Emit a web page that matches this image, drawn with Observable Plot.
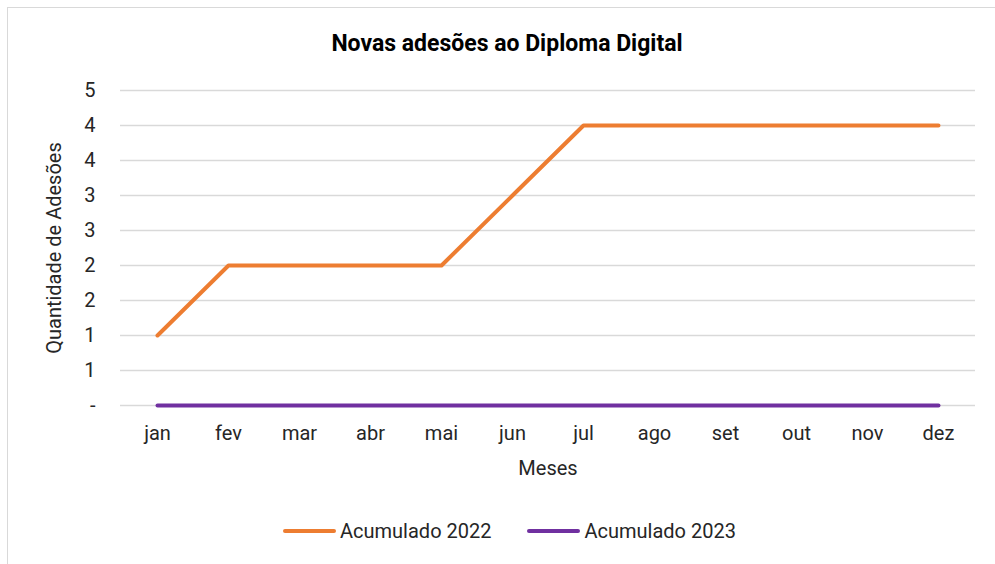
<!DOCTYPE html>
<html><head><meta charset="utf-8">
<script src="https://cdn.jsdelivr.net/npm/d3@7"></script>
<script src="https://cdn.jsdelivr.net/npm/@observablehq/plot@0.6"></script>
<style>
body{margin:0;background:#fff;font-family:Roboto,sans-serif;}
#wrap{position:relative;width:995px;height:564px;overflow:hidden;background:#fff;}
#frame{position:absolute;left:7px;top:7px;width:1100px;height:700px;border:1.5px solid #d9d9d9;box-sizing:border-box;}
#title{position:absolute;top:30px;left:8px;width:998px;text-align:center;font-weight:bold;font-size:23px;color:#000;}
#chart{position:absolute;left:0;top:0;}
#legend{position:absolute;left:283px;top:519px;display:flex;align-items:center;gap:36px;font-size:20px;color:#262626;}
.item{display:flex;align-items:center;}
.sw{display:inline-block;width:53px;height:4px;border-radius:2px;margin-right:4px;}
</style></head>
<body>
<div id="wrap">
  <div id="frame"></div>
  <div id="title">Novas adesões ao Diploma Digital</div>
  <div id="chart"></div>
  <div id="legend"></div>
</div>
<script>
const months = ["jan","fev","mar","abr","mai","jun","jul","ago","set","out","nov","dez"];
const acumulado2022 = [1,2,2,2,2,3,4,4,4,4,4,4];
const acumulado2023 = [0,0,0,0,0,0,0,0,0,0,0,0];
const seriesNames = ["Acumulado 2022","Acumulado 2023"];
const seriesColors = ["#ED7D31","#7030A0"];
const yTicks = [0,0.5,1,1.5,2,2.5,3,3.5,4,4.5];
const yTickLabels = ["-","1","1","2","2","3","3","4","4","5"];

const data = [];
[acumulado2022, acumulado2023].forEach((vals, s) => {
  vals.forEach((v, i) => data.push({month: months[i], value: v, series: seriesNames[s]}));
});

const chart = Plot.plot({
  width: 995,
  height: 564,
  marginLeft: 120,
  marginRight: 20,
  marginTop: 90,
  marginBottom: 159,
  style: {fontFamily: "Roboto, sans-serif", fontSize: "20px", color: "#262626", background: "transparent"},
  x: {domain: months, padding: 0.5},
  y: {domain: [0, 4.5]},
  color: {domain: seriesNames, range: seriesColors},
  marks: [
    Plot.gridY(yTicks, {stroke: "#d9d9d9", strokeOpacity: 1, strokeWidth: 1.5}),
    Plot.axisY(yTicks, {tickSize: 0, tickPadding: 25, tickFormat: (d) => yTickLabels[yTicks.indexOf(d)],
      label: "Quantidade de Adesões", labelAnchor: "center", labelArrow: "none", labelOffset: 74, fontSize: 20}),
    Plot.axisX({tickSize: 0, tickPadding: 20, label: "Meses", labelAnchor: "center", labelArrow: "none", labelOffset: 69, fontSize: 20}),
    Plot.line(data, {x: "month", y: "value", z: "series", stroke: "series", strokeWidth: 4, strokeLinecap: "round", strokeLinejoin: "round"})
  ]
});
document.getElementById("chart").appendChild(chart);

const legend = document.getElementById("legend");
seriesNames.forEach((n, i) => {
  const it = document.createElement("div");
  it.className = "item";
  const sw = document.createElement("span");
  sw.className = "sw";
  sw.style.background = seriesColors[i];
  it.appendChild(sw);
  it.appendChild(document.createTextNode(n));
  legend.appendChild(it);
});
</script>
</body></html>
